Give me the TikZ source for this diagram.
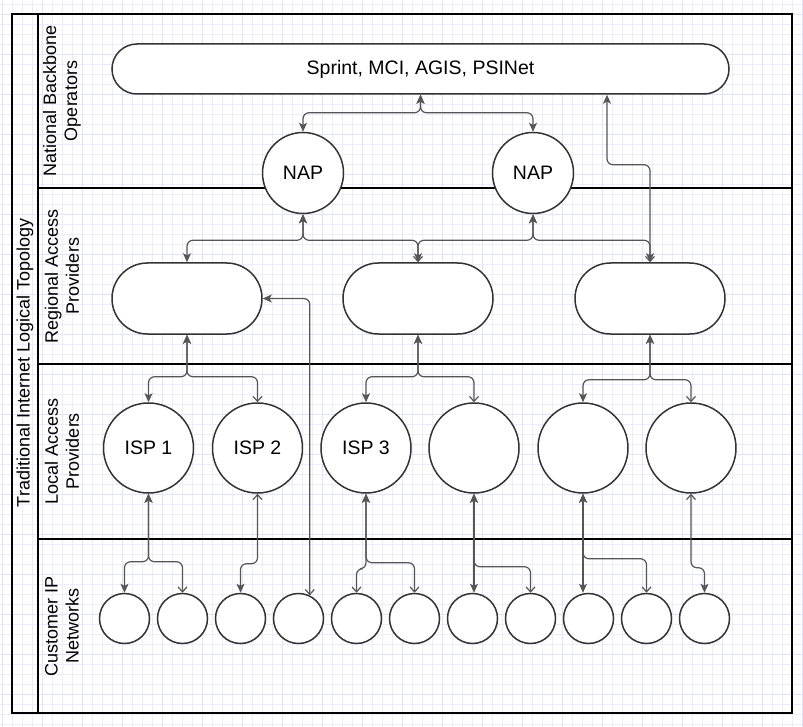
\documentclass[tikz,border=0pt]{standalone}
\usepackage{fontspec}
\setmainfont{Liberation Sans}
\usetikzlibrary{arrows.meta,calc}
\definecolor{gridminor}{RGB}{236,236,253}
\definecolor{gridmajor}{RGB}{226,226,251}
\definecolor{shapeline}{RGB}{51,51,51}
\definecolor{connline}{RGB}{85,85,85}
\tikzset{
  FA/.tip={Stealth[length=9pt,width=8pt,inset=2.2pt]},
  OA/.tip={Straight Barb[length=5pt,width=9pt]},
  frameline/.style={draw=black,line width=1.6pt},
  pill/.style={rectangle,draw=shapeline,fill=white,line width=1.5pt,inner sep=0pt,
    font=\fontsize{19.5}{23}\selectfont},
  nap/.style={circle,draw=shapeline,fill=white,line width=1.5pt,inner sep=0pt,minimum size=81pt,
    font=\fontsize{19.5}{23}\selectfont},
  isp/.style={circle,draw=shapeline,fill=white,line width=1.5pt,inner sep=0pt,minimum size=90pt,
    font=\fontsize{19.5}{23}\selectfont},
  cust/.style={circle,draw=shapeline,fill=white,line width=1.5pt,inner sep=0pt,minimum size=50pt},
  lanelabel/.style={rotate=90,align=center,inner sep=0pt,font=\fontsize{18}{21}\selectfont},
  conn/.style={draw=connline,line width=1.2pt,rounded corners=6pt},
}
\begin{document}
\begin{tikzpicture}[x=1pt,y=-1pt]
\useasboundingbox (0,0) rectangle (803,727);
\fill[white] (0,0) rectangle (803,727);
% grid
\foreach \g in {2,12,...,802} \draw[gridminor,line width=0.8pt] (\g,0) -- (\g,727);
\foreach \g in {4,14,...,724} \draw[gridminor,line width=0.8pt] (0,\g) -- (803,\g);
\foreach \g in {2,42,...,802} \draw[gridmajor,line width=0.8pt] (\g,0) -- (\g,727);
\foreach \g in {14,54,...,724} \draw[gridmajor,line width=0.8pt] (0,\g) -- (803,\g);
% frame and lanes
\draw[frameline] (12,14) rectangle (792,713);
\draw[frameline] (38,14) -- (38,713);
\draw[frameline] (38,188) -- (792,188);
\draw[frameline] (38,364) -- (792,364);
\draw[frameline] (38,539) -- (792,539);
\node[lanelabel] (title) at (25,363) {Traditional Internet Logical Topology};
\node[lanelabel] (lane1) at (62,101) {National Backbone\\Operators};
\node[lanelabel] (lane2) at (62,276) {Regional Access\\Providers};
\node[lanelabel] (lane3) at (62,451) {Local Access\\Providers};
\node[lanelabel] (lane4) at (62,626) {Customer IP\\Networks};
% nodes
\node[pill,minimum width=617pt,minimum height=50pt,rounded corners=25pt] (bb) at (420.5,69) {Sprint, MCI, AGIS, PSINet};
\node[nap] (n1) at (303,173) {NAP};
\node[nap] (n2) at (533,173) {NAP};
\node[pill,minimum width=150pt,minimum height=71pt,rounded corners=35.5pt] (r1) at (187,298.5) {};
\node[pill,minimum width=150pt,minimum height=71pt,rounded corners=35.5pt] (r2) at (418,298.5) {};
\node[pill,minimum width=150pt,minimum height=71pt,rounded corners=35.5pt] (r3) at (650,298.5) {};
\node[isp] (i1) at (148.5,448) {ISP 1};
\node[isp] (i2) at (257.5,448) {ISP 2};
\node[isp] (i3) at (366,448) {ISP 3};
\node[isp] (i4) at (474,448) {};
\node[isp] (i5) at (583,448) {};
\node[isp] (i6) at (691,448) {};
\foreach \k in {1,...,11} \node[cust] (c\k) at ({124.5+58*(\k-1)},618.5) {};
% connectors: backbone level
\draw[conn,{FA}-{FA}] (n1.north) -- ++(0,-19) -| (bb.south);
\draw[conn,{FA}-{FA}] (n2.north) -- ++(0,-19) -| (bb.south);
\draw[conn,{FA}-{OA}] ([xshift=186.5pt]bb.south) -- ++(0,70) -| (r3.north);
% NAP to regional
\draw[conn,{FA}-{FA}] (n1.south) -- ++(0,26) -| (r1.north);
\draw[conn,{FA}-{FA}] (n1.south) -- ++(0,26) -| (r2.north);
\draw[conn,{FA}-{OA}] (n2.south) -- ++(0,26) -| (r2.north);
\draw[conn,{FA}-{FA}] (n2.south) -- ++(0,26) -| (r3.north);
% regional to local
\draw[conn,{FA}-{FA}] (r1.south) -- ++(0,42) -| (i1.north);
\draw[conn,{FA}-{OA}] (r1.south) -- ++(0,42) -| (i2.north);
\draw[conn,{FA}-{FA}] (r2.south) -- ++(0,42) -| (i3.north);
\draw[conn,{FA}-{OA}] (r2.south) -- ++(0,42) -| (i4.north);
\draw[conn,{FA}-{FA}] (r3.south) -- ++(0,45) -| (i5.north);
\draw[conn,{FA}-{OA}] (r3.south) -- ++(0,45) -| (i6.north);
\draw[conn,{FA}-{OA}] (r1.east) -| (c4.64);
% local to customer
\draw[conn,{FA}-{FA}] (i1.south) -- ++(0,68) -| (c1.north);
\draw[conn,{FA}-{OA}] (i1.south) -- ++(0,68) -| (c2.north);
\draw[conn,{OA}-{FA}] (i2.south) -- ++(0,70) -| (c3.north);
\draw[conn,{FA}-{OA}] (i3.south) -- ++(0,75) -| (c5.north);
\draw[conn,{FA}-{OA}] (i3.south) -- ++(0,69) -| (c6.north);
\draw[conn,{FA}-{FA}] (i4.south) -- (i4.south |- c7.north);
\draw[conn,{FA}-{OA}] (i4.south) -- ++(0,73) -| (c8.north);
\draw[conn,{FA}-{FA}] (i5.south) -- (i5.south |- c9.north);
\draw[conn,{FA}-{OA}] (i5.south) -- ++(0,65) -| (c10.north);
\draw[conn,{OA}-{FA}] (i6.south) -- ++(0,74) -| (c11.north);
\end{tikzpicture}
\end{document}
